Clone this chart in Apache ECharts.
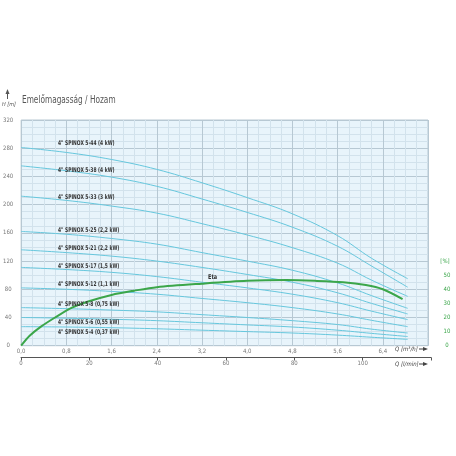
<!DOCTYPE html>
<html><head><meta charset="utf-8">
<script src="https://cdn.jsdelivr.net/npm/echarts@6/dist/echarts.min.js"></script>
<style>html,body{margin:0;padding:0;background:#fff}#c{width:456px;height:456px}</style>
</head><body><div id="c"></div>
<script>
// Flow points (m3/h)
const qPoints = [0, 0.8, 1.6, 2.4, 3.2, 4.0, 4.8, 5.6, 6.2, 6.84];
// Head values (m) per pump model
const pumpNames = ["4\" SPINOX 5-44 (4 kW)","4\" SPINOX 5-38 (4 kW)","4\" SPINOX 5-33 (3 kW)","4\" SPINOX 5-25 (2,2 kW)","4\" SPINOX 5-21 (2,2 kW)","4\" SPINOX 5-17 (1,5 kW)","4\" SPINOX 5-12 (1,1 kW)","4\" SPINOX 5-8 (0,75 kW)","4\" SPINOX 5-6 (0,55 kW)","4\" SPINOX 5-4 (0,37 kW)"];
const h_5_44 = [281, 274, 264, 250, 231, 210, 187, 156, 124, 95];
const h_5_38 = [255, 248, 239, 226, 208, 189, 168, 141, 113, 83];
const h_5_33 = [212, 206, 198, 188, 173, 157, 139, 117, 93, 70];
const h_5_25 = [162, 158, 152, 144, 132, 120, 107, 89, 71, 53];
const h_5_21 = [136, 132, 127, 120, 111, 101, 90, 75, 60, 45];
const h_5_17 = [111, 108, 104, 98, 90, 82, 73, 61, 49, 37];
const h_5_12 = [82, 80, 77, 73, 67, 61, 54, 45, 36, 27];
const h_5_8  = [54, 52.5, 50.5, 48, 44, 40, 35.5, 30, 23.5, 18];
const h_5_6  = [40, 39, 37.5, 35.5, 32.5, 29.5, 26.5, 22, 17.5, 13];
const h_5_4  = [27, 26.5, 25.5, 24, 22, 20, 18, 15, 12, 9];
// Efficiency curve (Q m3/h, eta %)
const etaQ = [0, 0.15, 0.35, 0.6, 0.9, 1.2, 1.6, 2.0, 2.4, 3.2, 4.0, 4.7, 5.2, 5.7, 6.1, 6.4, 6.75];
const etaV = [0, 7, 13.5, 20, 27, 31.5, 36, 39, 41.5, 44, 46, 46.5, 46, 45, 43, 40, 33];
// Tick labels
const yTicks = [0, 40, 80, 120, 160, 200, 240, 280, 320];
const qTicks = [0, 0.8, 1.6, 2.4, 3.2, 4.0, 4.8, 5.6, 6.4];
const lminTicks = [0, 20, 40, 60, 80, 100];
const pctTicks = [0, 10, 20, 30, 40, 50];
const pumpHeads = [h_5_44, h_5_38, h_5_33, h_5_25, h_5_21, h_5_17, h_5_12, h_5_8, h_5_6, h_5_4];

const labelY = [143.3, 170, 197.3, 230.3, 248.7, 266.3, 284.7, 304, 322, 332.7];
const FF = 'DejaVu Sans Condensed, sans-serif';
const tickFont = {fontSize: 6, color: '#777', fontFamily: FF};
const chart = echarts.init(document.getElementById('c'));
const series = pumpHeads.map((h, i) => ({
  type: 'line', xAxisIndex: 0, yAxisIndex: 0, smooth: 0.4, symbol: 'none',
  lineStyle: {color: '#66c7dd', width: 1}, data: h.map((v, j) => [qPoints[j], v]), z: 3
}));
series.push({
  type: 'line', xAxisIndex: 0, yAxisIndex: 2, smooth: 0.3, symbol: 'none',
  lineStyle: {color: '#3ba64a', width: 2}, data: etaV.map((v, j) => [etaQ[j], v]), z: 4
});
const graphics = [];
pumpNames.forEach((n, i) => graphics.push({type: 'text', x: 58, y: labelY[i], scaleX: 0.76, z: 10,
  style: {text: n, fontSize: 6.5, fontWeight: 'bold', fill: '#333', fontFamily: FF, textVerticalAlign: 'middle'}}));
graphics.push({type: 'text', x: 208, y: 277, z: 10, scaleX: 0.85, style: {text: 'Eta', fontSize: 6.5, fontWeight: 'bold', fill: '#333', fontFamily: FF, textVerticalAlign: 'middle'}});
graphics.push({type: 'text', x: 22, y: 100, scaleX: 0.82, style: {text: 'Emelőmagasság / Hozam', fontSize: 10, fill: '#555', fontFamily: FF, textVerticalAlign: 'middle'}});
graphics.push({type: 'text', x: 2, y: 105, style: {text: 'H [m]', fontSize: 5.5, fontStyle: 'italic', fill: '#555', fontFamily: FF, textVerticalAlign: 'middle'}});
graphics.push({type: 'line', shape: {x1: 7.5, y1: 93, x2: 7.5, y2: 99}, style: {stroke: '#555', lineWidth: 1}});
graphics.push({type: 'polygon', shape: {points: [[5.5, 94], [9.5, 94], [7.5, 89]]}, style: {fill: '#555'}});
graphics.push({type: 'text', x: 445, y: 261, style: {text: '[%]', fontSize: 6, fill: '#3ba64a', fontFamily: FF, textAlign: 'center', textVerticalAlign: 'middle'}});
graphics.push({type: 'text', x: 395, y: 349, style: {text: 'Q [m³/h]', fontSize: 6, fontStyle: 'italic', fill: '#444', fontFamily: FF, textVerticalAlign: 'middle'}});
graphics.push({type: 'text', x: 395, y: 364, style: {text: 'Q [l/min]', fontSize: 6, fontStyle: 'italic', fill: '#444', fontFamily: FF, textVerticalAlign: 'middle'}});
[349, 364].forEach(y => {
  graphics.push({type: 'line', shape: {x1: 419, y1: y, x2: 425, y2: y}, style: {stroke: '#444', lineWidth: 1}});
  graphics.push({type: 'polygon', shape: {points: [[423, y - 2], [423, y + 2], [428, y]]}, style: {fill: '#444'}});
});

chart.setOption({
  animation: false,
  backgroundColor: '#fff',
  grid: [
    {left: 21, right: 28, top: 120, bottom: 110.3, show: true, backgroundColor: '#e8f4fb', borderColor: '#b9c9d3', borderWidth: 1},
    {left: 21, right: 25, top: 357.5, height: 0}
  ],
  xAxis: [
    {type: 'value', gridIndex: 0, min: 0, max: 7.2, interval: 0.8,
     axisLine: {show: false}, axisTick: {show: false},
     axisLabel: {...tickFont, margin: 3, formatter: v => qTicks.some(t => Math.abs(t - v) < 1e-6) ? v.toFixed(1).replace('.', ',') : ''},
     splitLine: {show: true, lineStyle: {color: '#b7c8d3', width: 1}},
     minorTick: {show: false, splitNumber: 4},
     minorSplitLine: {show: true, lineStyle: {color: '#d2e2ec', width: 1}}},
    {type: 'value', gridIndex: 1, min: 0, max: 120, interval: 20,
     axisLine: {show: true, lineStyle: {color: '#555', width: 1}},
     axisTick: {show: true, inside: false, length: 3, lineStyle: {color: '#555'}},
     axisLabel: {...tickFont, margin: 3, formatter: v => lminTicks.includes(v) ? String(v) : ''},
     splitLine: {show: false}}
  ],
  yAxis: [
    {type: 'value', gridIndex: 0, min: 0, max: 320, interval: 40,
     axisLine: {show: false}, axisTick: {show: false},
     axisLabel: {...tickFont, margin: 13, align: 'center', formatter: v => yTicks.includes(v) ? String(v) : ''},
     splitLine: {show: true, lineStyle: {color: '#b7c8d3', width: 1}},
     minorTick: {show: false, splitNumber: 4},
     minorSplitLine: {show: true, lineStyle: {color: '#d2e2ec', width: 1}}},
    {type: 'value', gridIndex: 1, show: false},
    {type: 'value', gridIndex: 0, position: 'right', min: 0, max: 160, interval: 10,
     axisLine: {show: false}, axisTick: {show: false}, splitLine: {show: false},
     axisLabel: {fontSize: 6, color: '#3ba64a', fontFamily: FF, margin: 19, align: 'center',
       formatter: v => pctTicks.includes(v) ? String(v) : ''}}
  ],
  series: series,
  graphic: graphics
});
</script></body></html>
